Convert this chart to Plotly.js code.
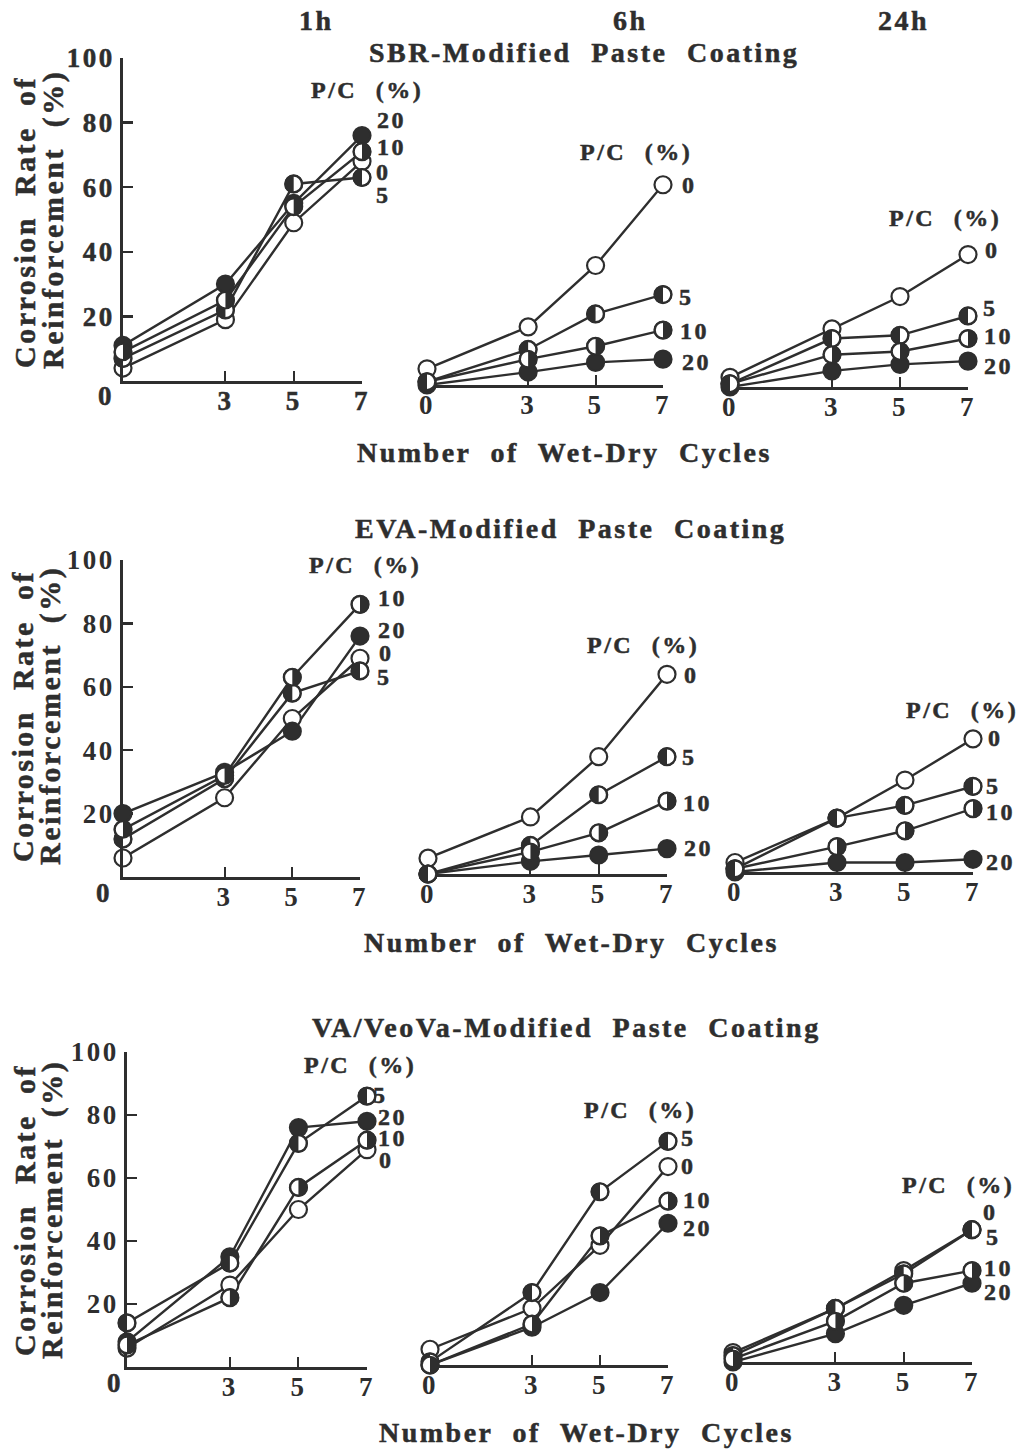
<!DOCTYPE html>
<html><head><meta charset="utf-8">
<script src="https://cdn.plot.ly/plotly-3.0.1.min.js"></script>
<style>
html,body{margin:0;padding:0;background:#fff;}
svg text{letter-spacing:2.5px;word-spacing:10px;}
.annotation-text, g[class^="xtick"] text, g[class^="ytick"] text{stroke:#2e2e2e;stroke-width:0.5px;}
</style></head><body><div id="chart" style="width:1025px;height:1450px;"></div>
<script>
// ---------- data ----------
const cycles = [0, 3, 5, 7];
const pcLabels = ['0', '5', '10', '20'];
const hours = ['1h', '6h', '24h'];
const coatingTitles = ['SBR-Modified Paste Coating', 'EVA-Modified Paste Coating', 'VA/VeoVa-Modified Paste Coating'];
const xTitle = 'Number of Wet-Dry Cycles';
const yTitle1 = 'Corrosion Rate of';
const yTitle2 = 'Reinforcement (%)';
const pcTitle = 'P/C (%)';
const yTicks = [20, 40, 60, 80, 100];
const xTicks = [3, 5, 7];

// SBR-modified
const sbr1h_pc0 = [4, 19, 49, 68];
const sbr1h_pc5 = [7, 22, 61, 63];
const sbr1h_pc10 = [9, 25, 54, 71];
const sbr1h_pc20 = [11, 30, 55, 76];
const sbr6h_pc0 = [5, 18, 37, 62];
const sbr6h_pc5 = [1, 11, 22, 28];
const sbr6h_pc10 = [1, 8, 12, 17];
const sbr6h_pc20 = [0, 4, 7, 8];
const sbr24h_pc0 = [3, 18, 28, 41];
const sbr24h_pc5 = [1, 15, 16, 22];
const sbr24h_pc10 = [1, 10, 11, 15];
const sbr24h_pc20 = [0, 5, 7, 8];
// EVA-modified
const eva1h_pc0 = [6, 25, 50, 69];
const eva1h_pc5 = [12, 31, 58, 65];
const eva1h_pc10 = [15, 32, 63, 86];
const eva1h_pc20 = [20, 33, 46, 76];
const eva6h_pc0 = [5, 18, 37, 63];
const eva6h_pc5 = [0, 9, 25, 37];
const eva6h_pc10 = [0, 7, 13, 23];
const eva6h_pc20 = [0, 4, 6, 8];
const eva24h_pc0 = [3, 17, 29, 42];
const eva24h_pc5 = [1, 17, 21, 27];
const eva24h_pc10 = [1, 8, 13, 20];
const eva24h_pc20 = [0, 3, 3, 4];
// VA/VeoVa-modified
const va1h_pc0 = [6, 26, 50, 69];
const va1h_pc5 = [14, 33, 71, 86];
const va1h_pc10 = [7, 22, 57, 72];
const va1h_pc20 = [8, 35, 76, 78];
const va6h_pc0 = [5, 18, 38, 63];
const va6h_pc5 = [1, 23, 55, 71];
const va6h_pc10 = [0, 13, 41, 52];
const va6h_pc20 = [0, 12, 23, 45];
const va24h_pc0 = [3, 17, 29, 42];
const va24h_pc5 = [2, 17, 28, 42];
const va24h_pc10 = [1, 13, 25, 29];
const va24h_pc20 = [0, 9, 18, 25];

// ---------- layout / styling ----------
const W = 1025, H = 1450;
const INK = '#2e2e2e';
const FONT = 'Liberation Serif, Times New Roman, serif';
const px = v => v / W;
const py = v => 1 - v / H;
const MARK = 19;   // px size of the half-filled marker image
const PAD = 16;    // px margin of the helper axes that carry the marker images

const panels = [
  {s: [sbr1h_pc0, sbr1h_pc5, sbr1h_pc10, sbr1h_pc20], box: [123, 362, 381, 58], left: true,
   lab: [[383, 172], [383, 195], [391, 147], [391, 120]], pc: [367, 90], origin: [106, 396]},
  {s: [sbr6h_pc0, sbr6h_pc5, sbr6h_pc10, sbr6h_pc20], box: [427, 663, 385, 62], left: false,
   lab: [[689, 185], [686, 297], [694, 331], [696, 362]], pc: [636, 152]},
  {s: [sbr24h_pc0, sbr24h_pc5, sbr24h_pc10, sbr24h_pc20], box: [730, 968, 387, 64], left: false,
   lab: [[992, 250], [990, 308], [998, 336], [998, 366]], pc: [945, 218]},
  {s: [eva1h_pc0, eva1h_pc5, eva1h_pc10, eva1h_pc20], box: [123, 360, 877, 560], left: true,
   lab: [[386, 653], [384, 677], [392, 598], [392, 630]], pc: [365, 565], origin: [104, 893]},
  {s: [eva6h_pc0, eva6h_pc5, eva6h_pc10, eva6h_pc20], box: [428, 667, 874, 557], left: false,
   lab: [[691, 675], [689, 757], [697, 803], [698, 848]], pc: [643, 645]},
  {s: [eva24h_pc0, eva24h_pc5, eva24h_pc10, eva24h_pc20], box: [735, 973, 872, 555], left: false,
   lab: [[995, 738], [993, 786], [1000, 812], [1000, 862]], pc: [962, 710]},
  {s: [va1h_pc0, va1h_pc5, va1h_pc10, va1h_pc20], box: [127, 367, 1367, 1052], left: true,
   lab: [[386, 1160], [380, 1095], [392, 1138], [392, 1117]], pc: [360, 1065], origin: [115, 1383]},
  {s: [va6h_pc0, va6h_pc5, va6h_pc10, va6h_pc20], box: [430, 668, 1365, 1050], left: false,
   lab: [[688, 1166], [688, 1138], [697, 1200], [697, 1228]], pc: [640, 1110]},
  {s: [va24h_pc0, va24h_pc5, va24h_pc10, va24h_pc20], box: [733, 972, 1362, 1047], left: false,
   lab: [[990, 1212], [993, 1237], [998, 1268], [998, 1292]], pc: [958, 1185]}
];
const hourPos = [[316, 20], [630, 20], [903, 20]];
const titlePos = [[584, 52], [570, 528], [566, 1027]];
const xTitlePos = [[564, 452], [571, 942], [586, 1432]];
const yTitlePos = [[[24, 222], [53, 220]], [[22, 716], [50, 716]], [[24, 1210], [52, 1210]]];

// half-filled circle symbols (5%: left half dark, 10%: right half dark)
const halfSvg = sweep => 'data:image/svg+xml;utf8,' + encodeURIComponent(
  "<svg xmlns='http://www.w3.org/2000/svg' width='20' height='20' viewBox='0 0 20 20'>" +
  "<circle cx='10' cy='10' r='8.7' fill='#ffffff' stroke='" + INK + "' stroke-width='2.3'/>" +
  "<path d='M10 1.3 A8.7 8.7 0 0 " + sweep + " 10 18.7 Z' fill='" + INK + "'/></svg>");
const halfSrc = {1: halfSvg(0), 2: halfSvg(1)};

const tickFont = {family: FONT, size: 27, color: INK, weight: 'bold'};
const traces = [];
const layout = {
  width: W, height: H, margin: {l: 0, r: 0, t: 0, b: 0},
  paper_bgcolor: '#ffffff', plot_bgcolor: 'rgba(0,0,0,0)', showlegend: false,
  font: {family: FONT, color: INK}, annotations: [], images: []
};
const ann = (text, x, y, size, extra) => Object.assign({
  text: text, x: px(x), y: py(y), xref: 'paper', yref: 'paper', xanchor: 'center', yanchor: 'middle',
  showarrow: false, font: {family: FONT, size: size, color: INK, weight: 'bold'}
}, extra || {});

panels.forEach((p, i) => {
  const n = i + 1;
  const sfx = n === 1 ? '' : String(n);
  const xr = 'x' + sfx, yr = 'y' + sfx;
  const wpx = p.box[1] - p.box[0], hpx = p.box[2] - p.box[3];
  layout['xaxis' + sfx] = {
    domain: [px(p.box[0]), px(p.box[1])], range: [0, 7], anchor: yr,
    showline: true, linecolor: INK, linewidth: 2.8, showgrid: false, zeroline: false,
    tickmode: 'array', tickvals: p.left ? xTicks : [0].concat(xTicks),
    ticks: 'inside', ticklen: 10, tickwidth: 2, tickcolor: INK, tickfont: tickFont,
    ticklabelstandoff: -6, fixedrange: true
  };
  layout['yaxis' + sfx] = {
    domain: [py(p.box[2]), py(p.box[3])], range: [0, 100], anchor: xr, visible: p.left,
    showline: true, linecolor: INK, linewidth: 2.8, showgrid: false, zeroline: false,
    tickmode: 'array', tickvals: yTicks, ticks: 'inside', ticklen: 10, tickwidth: 2.5,
    tickcolor: INK, tickfont: tickFont, ticklabelstandoff: 0, fixedrange: true
  };
  // helper axes: same data->pixel mapping, slightly larger area so edge markers are not clipped
  const hn = String(n + 9);
  const dx = PAD * 7 / wpx, dy = PAD * 100 / hpx;
  layout['xaxis' + hn] = {
    domain: [px(p.box[0] - PAD), px(p.box[1] + PAD)], range: [-dx, 7 + dx],
    anchor: 'y' + hn, visible: false, showgrid: false, zeroline: false, fixedrange: true
  };
  layout['yaxis' + hn] = {
    domain: [py(p.box[2] + PAD), py(p.box[3] - PAD)], range: [-dy, 100 + dy],
    anchor: 'x' + hn, visible: false, showgrid: false, zeroline: false, fixedrange: true
  };
  // lines
  p.s.forEach(vals => traces.push({
    type: 'scatter', mode: 'lines', x: cycles, y: vals, xaxis: xr, yaxis: yr,
    line: {color: INK, width: 2.4}, hoverinfo: 'skip', cliponaxis: false
  }));
  // markers
  p.s.forEach((vals, k) => traces.push({
    type: 'scatter', mode: 'markers', x: cycles, y: vals, xaxis: xr, yaxis: yr,
    marker: {symbol: 'circle', size: 17, color: k === 3 ? INK : '#ffffff', line: {color: INK, width: 2.2}},
    hoverinfo: 'skip', cliponaxis: false
  }));
  // half-filled symbols on the same data points
  const sx = MARK * 7 / wpx;
  const sy = MARK * 100 / hpx;
  [1, 2].forEach(k => p.s[k].forEach((v, j) => layout.images.push({
    source: halfSrc[k], xref: 'x' + hn, yref: 'y' + hn, x: cycles[j], y: v, sizex: sx, sizey: sy,
    xanchor: 'center', yanchor: 'middle', sizing: 'stretch', layer: 'above'
  })));
  // series labels
  p.lab.forEach((pos, k) => layout.annotations.push(ann(pcLabels[k], pos[0], pos[1], 24)));
  layout.annotations.push(ann(pcTitle, p.pc[0], p.pc[1], 24));
  if (p.origin) layout.annotations.push(ann('0', p.origin[0], p.origin[1], 27));
});

hours.forEach((h, i) => layout.annotations.push(ann(h, hourPos[i][0], hourPos[i][1], 28)));
coatingTitles.forEach((t, i) => layout.annotations.push(ann(t, titlePos[i][0], titlePos[i][1], 28)));
xTitlePos.forEach(pos => layout.annotations.push(ann(xTitle, pos[0], pos[1], 28)));
yTitlePos.forEach(pair => {
  layout.annotations.push(ann(yTitle1, pair[0][0], pair[0][1], 30, {textangle: -90}));
  layout.annotations.push(ann(yTitle2, pair[1][0], pair[1][1], 30, {textangle: -90}));
});

Plotly.newPlot('chart', traces, layout, {staticPlot: true});
</script></body></html>
